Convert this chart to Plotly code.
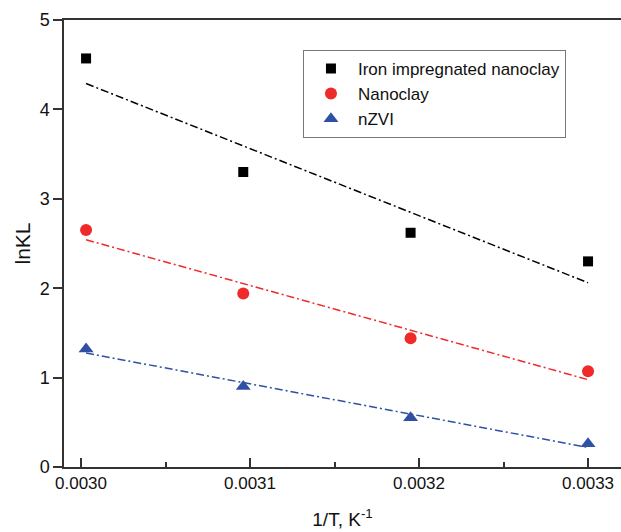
import numpy as np
import plotly.graph_objects as go

# Data
inv_T = [0.003003, 0.003096, 0.003195, 0.003300]
iron_np = [4.57, 3.30, 2.62, 2.30]
nanoclay = [2.65, 1.94, 1.44, 1.07]
nzvi = [1.32, 0.90, 0.55, 0.26]

series = [
    ("Iron impregnated nanoclay", iron_np, "#000000", "square", 10),
    ("Nanoclay", nanoclay, "#ee2a2a", "circle", 12),
    ("nZVI", nzvi, "#3050a5", "triangle-up", 13),
]

FONT = "Arial, Liberation Sans, sans-serif"
fig = go.Figure()

x = np.array(inv_T)
for i, (name, vals, col, sym, sz) in enumerate(series):
    k, b = np.polyfit(x, np.array(vals), 1)
    xf = np.array([x.min(), x.max()])
    fig.add_trace(go.Scatter(
        x=xf, y=k * xf + b, mode="lines", showlegend=False,
        line=dict(color=col, width=1.5, dash="8px,3px,2px,3px"),
        hoverinfo="skip"))
for i, (name, vals, col, sym, sz) in enumerate(series):
    fig.add_trace(go.Scatter(
        x=inv_T, y=vals, mode="markers", name=name, legendgroup=f"g{i}",
        marker=dict(symbol=sym, size=sz, color=col, line=dict(width=0))))

fig.update_layout(
    width=621, height=532,
    margin=dict(l=64, r=0, t=20, b=65),
    paper_bgcolor="white", plot_bgcolor="white",
    font=dict(family=FONT, color="#111111"),
    legend=dict(
        x=0.429, y=0.933, xanchor="left", yanchor="top",
        bordercolor="#777777", borderwidth=1,
        font=dict(size=17, family=FONT, color="#111111"),
        itemwidth=44, tracegroupgap=0, traceorder="grouped",
        bgcolor="white"),
    xaxis=dict(
        range=[0.00298994, 0.0033195],
        tickvals=[0.0030, 0.0031, 0.0032, 0.0033],
        ticktext=["0.0030", "0.0031", "0.0032", "0.0033"],
        ticks="inside", ticklen=9, tickwidth=1.5, tickcolor="#333333",
        minor=dict(dtick=0.00005, tick0=0.0030, ticks="inside", ticklen=5,
                   tickwidth=1.5, tickcolor="#333333"),
        showline=True, linecolor="#333333", linewidth=1.5, mirror=True,
        showgrid=False, zeroline=False,
        tickfont=dict(size=17, family=FONT, color="#111111"),
        title=dict(text="1/T, K<sup>-1</sup>", standoff=21,
                   font=dict(size=19, family=FONT, color="#111111")),
    ),
    yaxis=dict(
        range=[0, 5], dtick=1,
        ticks="outside", ticklen=9, tickwidth=1.5, tickcolor="#333333",
        showline=True, linecolor="#333333", linewidth=1.5, mirror=False,
        showgrid=False, zeroline=False,
        tickfont=dict(size=18, family=FONT, color="#111111"),
        title=dict(text="lnKL", standoff=3,
                   font=dict(size=21, family=FONT, color="#111111")),
    ),
)

fig.write_html("out.html")
